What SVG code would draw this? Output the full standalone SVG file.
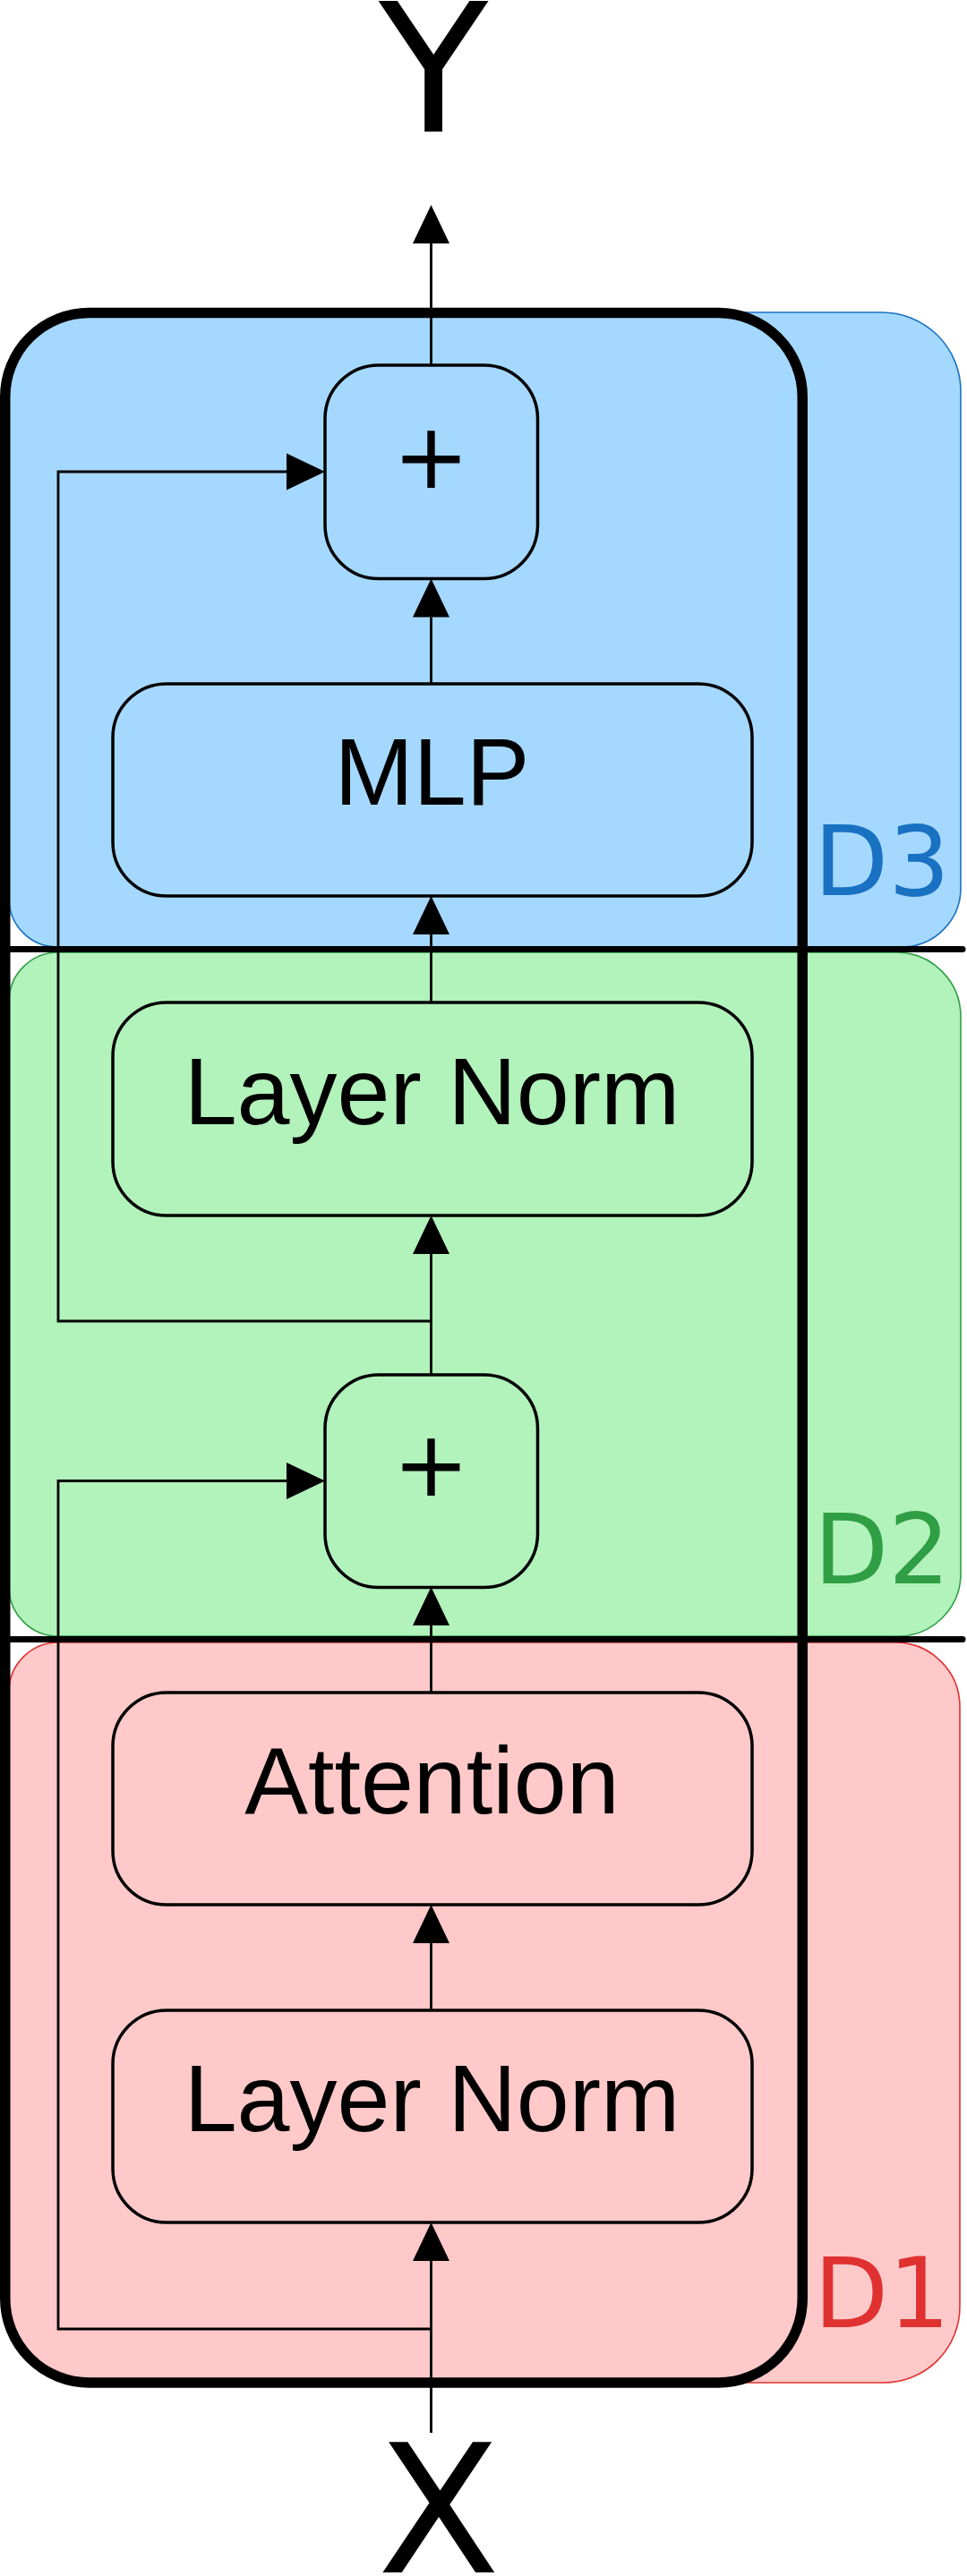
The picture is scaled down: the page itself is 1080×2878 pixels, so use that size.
<svg xmlns="http://www.w3.org/2000/svg" width="1080" height="2878" viewBox="0 0 1080 2878">
<defs>
<style>
.box{fill:none;stroke:#000;stroke-width:3.5}
.lbl{font-family:"Liberation Sans",Arial,sans-serif;font-size:106px;fill:#000;text-anchor:middle}
.plus{font-family:"DejaVu Sans",sans-serif;font-size:102px;fill:#000;text-anchor:middle}
.io{font-family:"DejaVu Sans",sans-serif;font-size:200px;fill:#000;text-anchor:middle}
.dl{font-family:"DejaVu Sans",sans-serif;font-size:108px}
.conn{fill:none;stroke:#000;stroke-width:2.8;marker-end:url(#ah)}
</style>
<marker id="ah" markerUnits="userSpaceOnUse" markerWidth="44" markerHeight="42" refX="0" refY="20.5" orient="auto" overflow="visible">
<path d="M0,0 L43,20.5 L0,41 Z" fill="#000"/>
</marker>
</defs>
<rect width="1080" height="2878" fill="#fff"/>

<g id="region-d3">
<path d="M98,349 H985 A88,88 0 0 1 1073,437 V992 A66,66 0 0 1 1007,1058 H64 A54,54 0 0 1 10,1004 V437 A88,88 0 0 1 98,349 Z" fill="#a5d8ff" stroke="#1971c2" stroke-width="1.6"/>
<text class="dl" x="909" y="1000" fill="#1971c2">D3</text>
</g>
<g id="region-d2">
<path d="M65,1064 H1001 A72,72 0 0 1 1073,1136 V1758 A70,70 0 0 1 1003,1828 H65 A55,55 0 0 1 10,1773 V1119 A55,55 0 0 1 65,1064 Z" fill="#b2f2bb" stroke="#2f9e44" stroke-width="1.6"/>
<text class="dl" x="909" y="1769" fill="#2f9e44">D2</text>
</g>
<g id="region-d1">
<path d="M65,1835 H1000 A72,72 0 0 1 1072,1907 V2577 A85,85 0 0 1 987,2662 H95 A85,85 0 0 1 10,2577 V1890 A55,55 0 0 1 65,1835 Z" fill="#ffc9c9" stroke="#e03131" stroke-width="1.6"/>
<text class="dl" x="909" y="2600" fill="#e03131">D1</text>
</g>

<g id="dividers">
<line x1="11" y1="1060.5" x2="1075" y2="1060.5" stroke="#000" stroke-width="7" stroke-linecap="round"/>
<line x1="11" y1="1831.5" x2="1075" y2="1831.5" stroke="#000" stroke-width="7" stroke-linecap="round"/>
</g>

<g id="block">
<rect x="5.75" y="349.5" width="890.5" height="2312.5" rx="94" ry="94" fill="none" stroke="#000" stroke-width="11.5"/>
</g>

<g id="node-add2">
<rect class="box" x="363" y="408" width="237.5" height="238.5" rx="60" ry="60"/>
<text class="plus" x="481.5" y="545">+</text>
</g>
<g id="node-mlp">
<rect class="box" x="126" y="764" width="714" height="237" rx="60" ry="60"/>
<text class="lbl" x="482.5" y="899">MLP</text>
</g>
<g id="node-ln2">
<rect class="box" x="126" y="1120" width="714" height="238" rx="60" ry="60"/>
<text class="lbl" x="482.5" y="1256">Layer Norm</text>
</g>
<g id="node-add1">
<rect class="box" x="363" y="1536" width="237.5" height="237.5" rx="60" ry="60"/>
<text class="plus" x="481.5" y="1671">+</text>
</g>
<g id="node-attn">
<rect class="box" x="126" y="1891" width="714" height="237" rx="60" ry="60"/>
<text class="lbl" x="482.5" y="2026">Attention</text>
</g>
<g id="node-ln1">
<rect class="box" x="126" y="2246" width="714" height="237" rx="60" ry="60"/>
<text class="lbl" x="482.5" y="2381">Layer Norm</text>
</g>
<g id="node-y">
<text class="io" x="484" y="147">Y</text>
</g>
<g id="node-x">
<text class="io" x="490" y="2874">X</text>
</g>

<g id="connectors">
<path class="conn" d="M481.5,408 V272"/>
<path class="conn" d="M481.5,764 V689.5"/>
<path class="conn" d="M481.5,1120 V1044"/>
<path class="conn" d="M481.5,1536 V1401"/>
<path class="conn" d="M481.5,1891 V1816"/>
<path class="conn" d="M481.5,2246 V2171"/>
<path class="conn" d="M481.5,2718 V2526"/>
<path class="conn" d="M481.5,1476 H65 V527 H320"/>
<path class="conn" d="M481.5,2602 H65 V1654.5 H320"/>
</g>
</svg>
